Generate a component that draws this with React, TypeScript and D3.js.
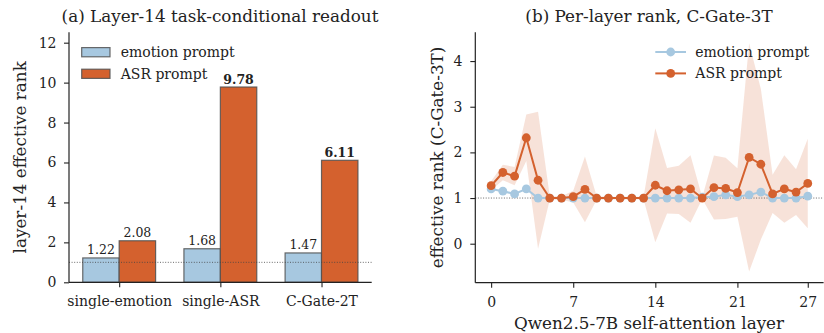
import React, { useRef, useEffect } from 'react';
import * as d3 from 'd3';

// panel (a)
const groups = ['single-emotion', 'single-ASR', 'C-Gate-2T'];
const emotionRank = [1.22, 1.68, 1.47];
const asrRank = [2.08, 9.78, 6.11];

// panel (b)
const layers = d3.range(0, 28);
const emotionLayer = [1.2, 1.15, 1.09, 1.2, 1.0, 1.0, 1.0, 1.0, 1.0, 1.0, 1.0, 1.0, 1.0, 1.0,
  1.0, 1.0, 1.0, 1.0, 1.02, 1.03, 1.07, 1.03, 1.07, 1.13, 1.0, 1.0, 1.0, 1.04];
const asrLayer = [1.27, 1.56, 1.48, 2.32, 1.39, 1.0, 1.0, 1.03, 1.19, 1.0, 1.0, 1.0, 1.0, 1.0,
  1.28, 1.16, 1.18, 1.2, 1.0, 1.23, 1.21, 1.12, 1.89, 1.74, 1.09, 1.2, 1.13, 1.32];
const asrStd = [0.1, 0.17, 0.2, 0.51, 1.5, 0.04, 0.04, 0.13, 0.72, 0.04, 0.03, 0.03, 0.03, 0.03,
  1.25, 0.5, 0.53, 0.74, 0.02, 0.7, 0.67, 0.53, 2.5, 1.65, 0.42, 0.74, 0.5, 0.98];
const xTicksB = [0, 7, 14, 21, 27];

const BLUE = '#a7c8e0';
const ORANGE = '#d4612e';
const FONT = 'DejaVu Serif';
const TICK_FS = 14;
const LABEL_FS = 16.8;

const App = () => {
  const svgRef = useRef<SVGSVGElement>(null);

  useEffect(() => {
    const svg = d3.select(svgRef.current);
    svg.selectAll('*').remove();
    svg.style('font-family', FONT);

    const styleAxis = (a: any) => {
      a.selectAll('text').attr('font-family', FONT).attr('font-size', TICK_FS).attr('fill', '#222');
      a.selectAll('line').attr('stroke', '#222').attr('stroke-width', 1.1);
      a.select('.domain').attr('stroke', '#222').attr('stroke-width', 1.2);
    };

    // ---------- panel (a) ----------
    const xa = d3.scaleLinear().domain([-0.496, 2.496]).range([69, 371.7]);
    const ya = d3.scaleLinear().domain([0, 12.52]).range([282.3, 32.3]);
    const bw = 0.36;
    const ga = svg.append('g');

    const series = [
      { vals: emotionRank, off: -bw / 2, color: BLUE, name: 'emotion prompt' },
      { vals: asrRank, off: bw / 2, color: ORANGE, name: 'ASR prompt' },
    ];
    series.forEach((s, si) => {
      ga.selectAll(null).data(s.vals).enter().append('rect')
        .attr('x', (d, i) => xa(i + s.off - bw / 2))
        .attr('width', xa(bw) - xa(0))
        .attr('y', d => ya(d))
        .attr('height', d => ya(0) - ya(d))
        .attr('fill', s.color)
        .attr('stroke', '#505050').attr('stroke-width', 1.2).attr('stroke-opacity', 0.85);
      ga.selectAll(null).data(s.vals).enter().append('text')
        .attr('x', (d, i) => xa(i + s.off))
        .attr('y', d => ya(d) - 3.5)
        .attr('text-anchor', 'middle')
        .attr('font-size', 12.5)
        .attr('font-weight', (d, i) => (si === 1 && i > 0 ? 'bold' : 'normal'))
        .attr('fill', '#222')
        .text(d => d.toFixed(2));
    });

    ga.append('line')
      .attr('x1', xa.range()[0]).attr('x2', xa.range()[1])
      .attr('y1', ya(1)).attr('y2', ya(1))
      .attr('stroke', '#444').attr('stroke-width', 0.8).attr('stroke-dasharray', '1,1.6');

    const axA = ga.append('g').attr('transform', `translate(0,${ya(0)})`)
      .call(d3.axisBottom(xa).tickValues([0, 1, 2]).tickFormat((d, i) => groups[i]).tickSize(5).tickPadding(9));
    const ayA = ga.append('g').attr('transform', `translate(${xa.range()[0]},0)`)
      .call(d3.axisLeft(ya).tickValues([0, 2, 4, 6, 8, 10, 12]).tickFormat(d3.format('d')).tickSize(5).tickPadding(7.5));
    styleAxis(axA);
    styleAxis(ayA);
    axA.select('.domain').attr('d', `M${xa.range()[0]},0H${xa.range()[1]}`);
    ayA.select('.domain').attr('d', `M0,${ya.range()[0]}V${ya.range()[1]}`);

    ga.append('text').attr('x', 220).attr('y', 22).attr('text-anchor', 'middle')
      .attr('font-size', LABEL_FS).attr('fill', '#222').text('(a) Layer-14 task-conditional readout');
    ga.append('text').attr('transform', `translate(26,${(ya.range()[0] + ya.range()[1]) / 2}) rotate(-90)`)
      .attr('text-anchor', 'middle').attr('font-size', LABEL_FS).attr('fill', '#222').text('layer-14 effective rank');

    const legA = ga.append('g');
    series.forEach((s, i) => {
      const cy = 52.2 + i * 21.6;
      legA.append('rect').attr('x', 81.7).attr('y', cy - 4.6).attr('width', 28.3).attr('height', 9.2)
        .attr('fill', s.color).attr('stroke', '#505050').attr('stroke-width', 1.2).attr('stroke-opacity', 0.85);
      legA.append('text').attr('x', 120.7).attr('y', cy + 4.8).attr('font-size', TICK_FS).attr('fill', '#222').text(s.name);
    });

    // ---------- panel (b) ----------
    const xb = d3.scaleLinear().domain([-1.35, 28.35]).range([475.3, 823.6]);
    const yb = d3.scaleLinear().domain([-0.854, 4.63]).range([282.7, 32.3]);
    const gb = svg.append('g');

    const area = d3.area<number>()
      .x((d, i) => xb(layers[i]))
      .y0((d, i) => yb(asrLayer[i] - asrStd[i]))
      .y1((d, i) => yb(asrLayer[i] + asrStd[i]));
    gb.append('path').datum(asrLayer).attr('d', area).attr('fill', ORANGE).attr('fill-opacity', 0.18);

    gb.append('line')
      .attr('x1', xb.range()[0]).attr('x2', xb.range()[1])
      .attr('y1', yb(1)).attr('y2', yb(1))
      .attr('stroke', '#444').attr('stroke-width', 0.8).attr('stroke-dasharray', '1,1.6');

    const line = d3.line<number>().x((d, i) => xb(layers[i])).y(d => yb(d));
    const lines = [
      { vals: emotionLayer, color: BLUE, name: 'emotion prompt' },
      { vals: asrLayer, color: ORANGE, name: 'ASR prompt' },
    ];
    lines.forEach(s => {
      gb.append('path').datum(s.vals).attr('d', line).attr('fill', 'none')
        .attr('stroke', s.color).attr('stroke-width', 2);
      gb.selectAll(null).data(s.vals).enter().append('circle')
        .attr('cx', (d, i) => xb(layers[i])).attr('cy', d => yb(d)).attr('r', 4.4)
        .attr('fill', s.color);
    });

    const axB = gb.append('g').attr('transform', `translate(0,${yb.range()[0]})`)
      .call(d3.axisBottom(xb).tickValues(xTicksB).tickSize(5).tickPadding(9));
    const ayB = gb.append('g').attr('transform', `translate(${xb.range()[0]},0)`)
      .call(d3.axisLeft(yb).tickValues([0, 1, 2, 3, 4]).tickFormat(d3.format('d')).tickSize(5).tickPadding(8));
    styleAxis(axB);
    styleAxis(ayB);
    axB.select('.domain').attr('d', `M${xb.range()[0]},0H${xb.range()[1]}`);
    ayB.select('.domain').attr('d', `M0,${yb.range()[0]}V${yb.range()[1]}`);

    gb.append('text').attr('x', 649).attr('y', 22).attr('text-anchor', 'middle')
      .attr('font-size', LABEL_FS).attr('fill', '#222').text('(b) Per-layer rank, C-Gate-3T');
    gb.append('text').attr('transform', `translate(443,${(yb.range()[0] + yb.range()[1]) / 2}) rotate(-90)`)
      .attr('text-anchor', 'middle').attr('font-size', LABEL_FS).attr('fill', '#222').text('effective rank (C-Gate-3T)');
    gb.append('text').attr('x', 649).attr('y', 328.5).attr('text-anchor', 'middle')
      .attr('font-size', LABEL_FS).attr('fill', '#222').text('Qwen2.5-7B self-attention layer');

    const legB = gb.append('g');
    lines.forEach((s, i) => {
      const cy = 52 + i * 21.4;
      legB.append('line').attr('x1', 655.3).attr('x2', 686).attr('y1', cy).attr('y2', cy)
        .attr('stroke', s.color).attr('stroke-width', 2);
      legB.append('circle').attr('cx', 670.7).attr('cy', cy).attr('r', 4.4).attr('fill', s.color);
      legB.append('text').attr('x', 695.3).attr('y', cy + 4.8).attr('font-size', TICK_FS).attr('fill', '#222').text(s.name);
    });
  }, []);

  return (
    <svg ref={svgRef} width={824} height={333}
      style={{ position: 'fixed', left: 0, top: 0, background: '#fff' }} />
  );
};

export default App;
